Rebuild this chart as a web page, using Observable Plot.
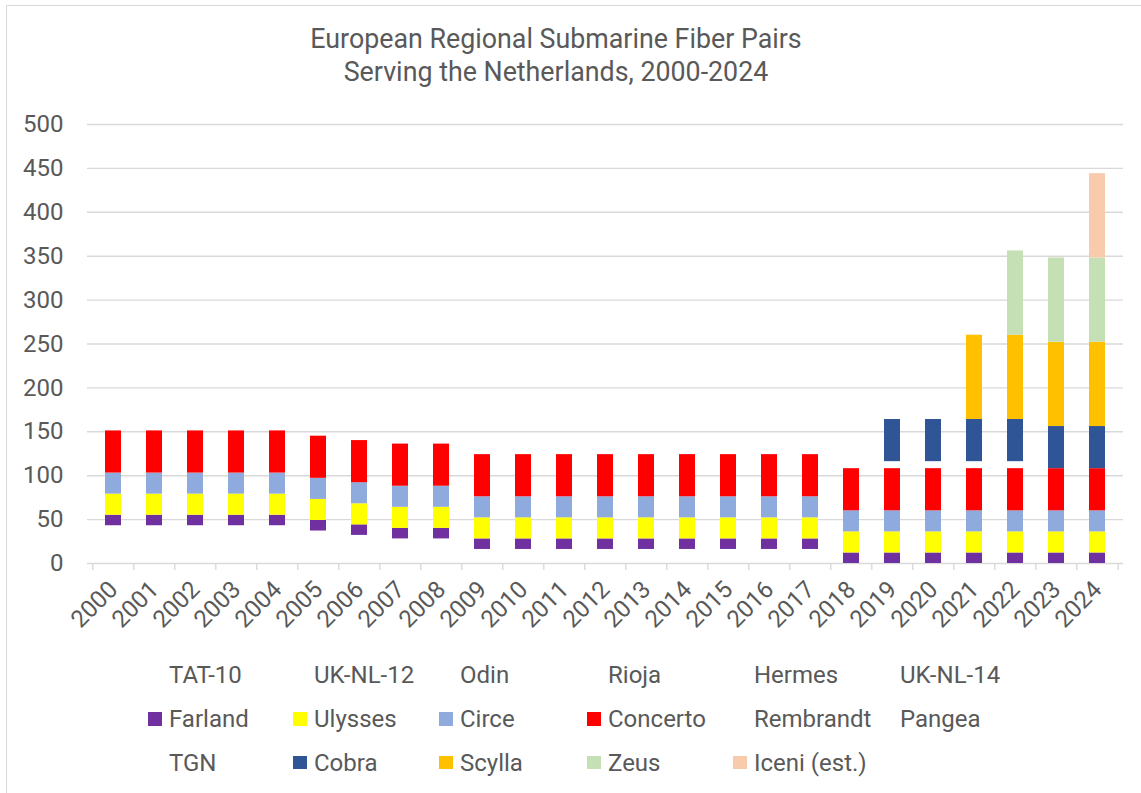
<!DOCTYPE html>
<html>
<head>
<meta charset="utf-8">
<script src="https://cdn.jsdelivr.net/npm/d3@7"></script>
<script src="https://cdn.jsdelivr.net/npm/@observablehq/plot@0.6"></script>
<style>
  html, body { margin: 0; padding: 0; background: #fff; }
  body { width: 1141px; height: 793px; position: relative; overflow: hidden; font-family: Roboto, sans-serif; color: #595959; }
  #frame { position: absolute; left: 6px; top: 5px; width: 1300px; height: 1000px; border: 1.5px solid #d9d9d9; box-sizing: border-box; }
  .title { position: absolute; left: 0; width: 1112px; text-align: center; font-size: 26.8px; line-height: 1; white-space: nowrap; }
  #chart { position: absolute; left: 0; top: 100px; }
  .leg { position: absolute; font-size: 24px; line-height: 1; white-space: nowrap; }
  .sw { position: absolute; width: 13.4px; height: 13.4px; }
</style>
</head>
<body>
<div id="frame"></div>
<div class="title" style="top:25.7px">European Regional Submarine Fiber Pairs</div>
<div class="title" style="top:59.1px">Serving the Netherlands, 2000-2024</div>
<div id="chart"></div>
<div id="legend"></div>
<script>
const years = ["2000","2001","2002","2003","2004","2005","2006","2007","2008","2009","2010","2011","2012","2013","2014","2015","2016","2017","2018","2019","2020","2021","2022","2023","2024"];

const seriesNames = ["TAT-10","UK-NL-12","Odin","Rioja","Hermes","UK-NL-14","Farland","Ulysses","Circe","Concerto","Rembrandt","Pangea","TGN","Cobra","Scylla","Zeus","Iceni (est.)"];
const seriesColors = ["transparent","transparent","transparent","transparent","transparent","transparent","#7030a0","#ffff00","#8faadc","#ff0000","transparent","transparent","transparent","#2f5597","#ffc000","#c5e0b4","#f8cbad"];

// fiber pairs per year, 2000..2024
const tat10     = [6,6,6,6,6,0,0,0,0,0,0,0,0,0,0,0,0,0,0,0,0,0,0,0,0];
const uknl12    = [5,5,5,5,5,5,0,0,0,0,0,0,0,0,0,0,0,0,0,0,0,0,0,0,0];
const odin      = [4,4,4,4,4,4,4,0,0,0,0,0,0,0,0,0,0,0,0,0,0,0,0,0,0];
const rioja     = [12,12,12,12,12,12,12,12,12,0,0,0,0,0,0,0,0,0,0,0,0,0,0,0,0];
const hermes    = [8,8,8,8,8,8,8,8,8,8,8,8,8,8,8,8,8,8,0,0,0,0,0,0,0];
const uknl14    = [8,8,8,8,8,8,8,8,8,8,8,8,8,8,8,8,8,8,0,0,0,0,0,0,0];
const farland   = [12,12,12,12,12,12,12,12,12,12,12,12,12,12,12,12,12,12,12,12,12,12,12,12,12];
const ulysses   = [24,24,24,24,24,24,24,24,24,24,24,24,24,24,24,24,24,24,24,24,24,24,24,24,24];
const circe     = [24,24,24,24,24,24,24,24,24,24,24,24,24,24,24,24,24,24,24,24,24,24,24,24,24];
const concerto  = [48,48,48,48,48,48,48,48,48,48,48,48,48,48,48,48,48,48,48,48,48,48,48,48,48];
const rembrandt = [0,0,0,0,0,0,0,0,0,0,0,0,0,0,0,0,0,0,0,4,4,4,4,0,0];
const pangea    = [0,0,0,0,0,0,0,0,0,0,0,0,0,0,0,0,0,0,0,4,4,4,4,0,0];
const tgn       = [0,0,0,0,0,0,0,0,0,0,0,0,0,0,0,0,0,0,0,0,0,0,0,0,0];
const cobra     = [0,0,0,0,0,0,0,0,0,0,0,0,0,0,0,0,0,0,0,48,48,48,48,48,48];
const scylla    = [0,0,0,0,0,0,0,0,0,0,0,0,0,0,0,0,0,0,0,0,0,96,96,96,96];
const zeus      = [0,0,0,0,0,0,0,0,0,0,0,0,0,0,0,0,0,0,0,0,0,0,96,96,96];
const iceni     = [0,0,0,0,0,0,0,0,0,0,0,0,0,0,0,0,0,0,0,0,0,0,0,0,96];

const seriesValues = [tat10,uknl12,odin,rioja,hermes,uknl14,farland,ulysses,circe,concerto,rembrandt,pangea,tgn,cobra,scylla,zeus,iceni];
const yTicks = [0,50,100,150,200,250,300,350,400,450,500];

const data = [];
seriesNames.forEach((s, i) => years.forEach((y, j) => data.push({year: y, series: s, value: seriesValues[i][j]})));

const W = 1141, ML = 87, MR = 18;
const bw = (W - ML - MR) / years.length;

const chart = Plot.plot({
  width: W,
  height: 560,
  marginLeft: ML,
  marginRight: MR,
  marginTop: 24,
  marginBottom: 97,
  style: {fontFamily: "Roboto", fontSize: "24px", color: "#595959", background: "transparent", overflow: "visible"},
  x: {domain: years, paddingInner: 0.6, paddingOuter: 0.3, align: 0.5, label: null},
  y: {domain: [0, 500], label: null},
  color: {type: "ordinal", domain: seriesNames, range: seriesColors},
  marks: [
    Plot.gridY(yTicks, {stroke: "#d9d9d9", strokeOpacity: 1, strokeWidth: 1.4}),
    Plot.barY(data, {x: "year", y: "value", fill: "series", order: seriesNames, inset: 0}),
    Plot.axisY(yTicks, {tickSize: 0, tickPadding: 24, label: null, fill: "#595959"}),
    Plot.axisX(years, {tickSize: 7, tickFormat: () => "", dx: -bw / 2, stroke: "#d9d9d9", strokeWidth: 1.4, label: null}),
    Plot.axisX([years[years.length - 1]], {tickSize: 7, tickFormat: () => "", dx: bw / 2, stroke: "#d9d9d9", strokeWidth: 1.4, label: null}),
    Plot.axisX(years, {tickSize: 0, tickPadding: 22, tickRotate: -45, label: null, fill: "#595959"})
  ]
});
document.getElementById("chart").appendChild(chart);

// legend (Excel-like, 6 columns, row-major)
const colX = [169, 314, 460, 608, 754, 900];
const rowBase = [683.3, 727.2, 770.8];
const legend = document.getElementById("legend");
const fs = 24;
seriesNames.forEach((s, i) => {
  const r = Math.floor(i / 6), c = i % 6;
  const t = document.createElement("div");
  t.className = "leg";
  t.textContent = s;
  t.style.left = colX[c] + "px";
  t.style.top = (rowBase[r] - (0.928 - 0.086) * fs) + "px";
  legend.appendChild(t);
  if (seriesColors[i] !== "transparent") {
    const sw = document.createElement("div");
    sw.className = "sw";
    sw.style.background = seriesColors[i];
    sw.style.left = (colX[c] - 20.7) + "px";
    sw.style.top = (rowBase[r] - 15) + "px";
    legend.appendChild(sw);
  }
});
</script>
</body>
</html>
